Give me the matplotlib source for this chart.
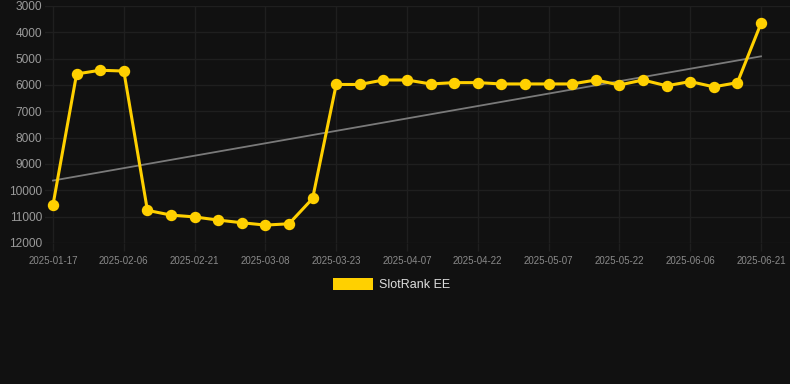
import matplotlib
matplotlib.use("Agg")
import matplotlib.pyplot as plt
import numpy as np
from datetime import date, timedelta

plt.rcParams['font.family'] = ['Liberation Sans', 'DejaVu Sans']

# ---- data ----
start_dates = ["2025-01-17", "2025-01-24", "2025-01-31"]
regular = [(date(2025, 2, 6) + timedelta(days=5 * i)).isoformat() for i in range(28)]
dates = start_dates + regular
values = [10550, 5580, 5440, 5470, 10760, 10940, 11010, 11130, 11230, 11320,
          11270, 10310, 5980, 5980, 5810, 5810, 5960, 5910, 5910, 5960,
          5960, 5960, 5960, 5810, 6000, 5810, 6030, 5870, 6070, 5910, 3660]
series_name = "SlotRank EE"
y_ticks = [3000, 4000, 5000, 6000, 7000, 8000, 9000, 10000, 11000, 12000]

bg = "#111111"
grid_c = "#1f1f1f"
gold = "#FFD000"

fig = plt.figure(figsize=(7.9, 3.84), dpi=100, facecolor=bg)
ax = fig.add_axes([45 / 790, 1 - 243 / 384, 1 - 45 / 790, (243 - 6) / 384])
ax.set_facecolor(bg)

x = np.arange(len(values))
coef = np.polyfit(x, values, 1)
trend = np.polyval(coef, x)
ax.plot([x[0], x[-1]], [trend[0], trend[-1]], color="#7a7a7a", lw=1.3, zorder=2)
ax.plot(x, values, color=gold, lw=2.2, marker="o", markersize=7.2,
        markerfacecolor=gold, markeredgecolor=gold, zorder=3, label=series_name)

px_per_idx = (761 - 53) / 30
ax.set_xlim(-8 / px_per_idx, 30 + 29 / px_per_idx)
ax.set_ylim(12000, 3000)

tick_idx = list(range(0, len(values), 3))
ax.set_xticks(tick_idx)
ax.set_xticklabels([dates[i] for i in tick_idx], fontsize=7, color="#8a8a8a")
ax.set_yticks(y_ticks)
ax.set_yticklabels([str(v) for v in y_ticks], fontsize=8.6, color="#9a9a9a")

ax.grid(True, color=grid_c, lw=1.0, zorder=0)
for s in ax.spines.values():
    s.set_visible(False)
ax.tick_params(axis="x", length=6, color=grid_c, width=1.0, pad=3)
ax.tick_params(axis="y", length=0, pad=2)

# legend
fig.patches.append(plt.Rectangle((333 / 790, 1 - 290 / 384), 40 / 790, 12 / 384,
                                 transform=fig.transFigure, facecolor=gold,
                                 edgecolor="none"))
fig.text(379 / 790, 1 - 284.5 / 384, series_name, fontsize=9, color="#dddddd",
         va="center", ha="left")

fig.savefig("out.png", dpi=100, facecolor=bg)
